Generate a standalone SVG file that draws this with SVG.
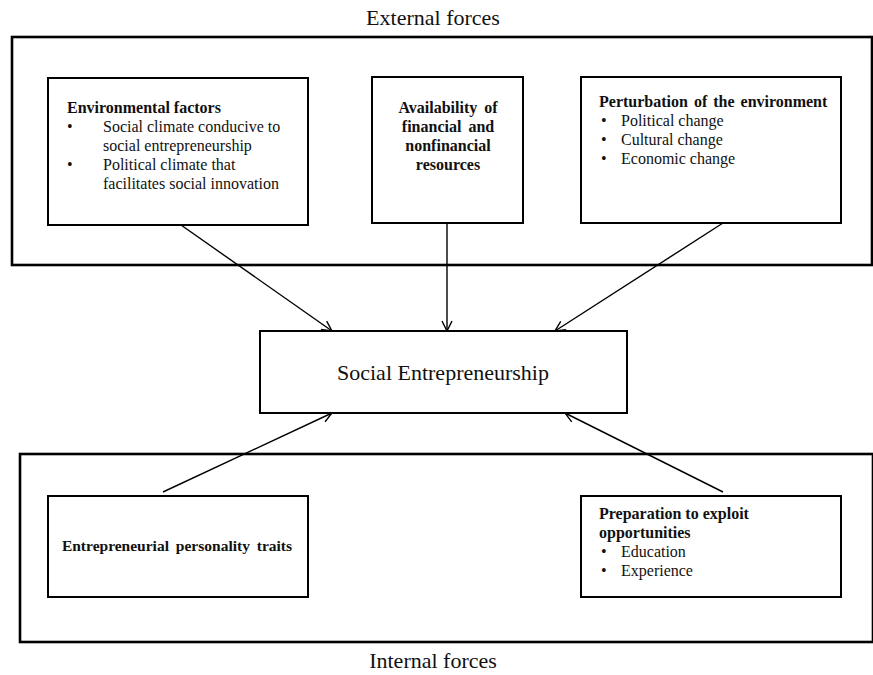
<svg xmlns="http://www.w3.org/2000/svg" width="873" height="675" viewBox="0 0 873 675">
<style>
.outer{fill:none;stroke:#000;stroke-width:2.6}
.box{fill:#fff;stroke:#000;stroke-width:2}
.t{font-family:"Liberation Serif","Times New Roman",serif;font-size:16px;fill:#111}
.b{font-weight:bold}
.big{font-family:"Liberation Serif","Times New Roman",serif;font-size:22px;fill:#111}
.conn{stroke:#000;stroke-width:1.4;fill:none}
</style>
<defs>
<marker id="arr" viewBox="0 0 12 12" refX="11" refY="6" markerWidth="12" markerHeight="12" markerUnits="userSpaceOnUse" orient="auto">
<path d="M1,1 L11,6 L1,11" fill="none" stroke="#000" stroke-width="1.4"/>
</marker>
</defs>
<rect width="873" height="675" fill="#fff"/>
<g id="external">
<text class="big" x="433" y="25" text-anchor="middle">External forces</text>
<rect class="outer" x="12" y="37" width="860" height="228"/>
</g>
<g id="internal">
<rect class="outer" x="20" y="454" width="853" height="188"/>
<text class="big" x="433" y="668" text-anchor="middle">Internal forces</text>
</g>
<g id="connectors">
<line class="conn" x1="181" y1="225" x2="332" y2="331" marker-end="url(#arr)"/>
<line class="conn" x1="447" y1="223" x2="447" y2="331" marker-end="url(#arr)"/>
<line class="conn" x1="723" y1="223" x2="555" y2="331" marker-end="url(#arr)"/>
<line class="conn" x1="163" y1="492" x2="332" y2="413" marker-end="url(#arr)"/>
<line class="conn" x1="723" y1="492" x2="565" y2="413" marker-end="url(#arr)"/>
</g>
<g id="env">
<rect class="box" x="48" y="78" width="260" height="147"/>
<text class="t b" x="67" y="113">Environmental factors</text>
<text class="t" x="67" y="132">•</text>
<text class="t" x="103" y="132">Social climate conducive to</text>
<text class="t" x="103" y="151">social entrepreneurship</text>
<text class="t" x="67" y="170">•</text>
<text class="t" x="103" y="170">Political climate that</text>
<text class="t" x="103" y="189">facilitates social innovation</text>
</g>
<g id="avail">
<rect class="box" x="372" y="77" width="151" height="146"/>
<text class="t b" x="448" y="113" text-anchor="middle" word-spacing="3">Availability of</text>
<text class="t b" x="448" y="132" text-anchor="middle" word-spacing="3">financial and</text>
<text class="t b" x="448" y="151" text-anchor="middle">nonfinancial</text>
<text class="t b" x="448" y="170" text-anchor="middle">resources</text>
</g>
<g id="perturb">
<rect class="box" x="581" y="77" width="260" height="146"/>
<text class="t b" x="599" y="107" word-spacing="2">Perturbation of the environment</text>
<text class="t" x="601" y="126">•</text>
<text class="t" x="621" y="126">Political change</text>
<text class="t" x="601" y="145">•</text>
<text class="t" x="621" y="145">Cultural change</text>
<text class="t" x="601" y="164">•</text>
<text class="t" x="621" y="164">Economic change</text>
</g>
<g id="social">
<rect class="box" x="260" y="331" width="367" height="82"/>
<text class="big" x="443" y="380" text-anchor="middle">Social Entrepreneurship</text>
</g>
<g id="traits">
<rect class="box" x="48" y="496" width="260" height="101"/>
<text class="t b" x="177" y="551" text-anchor="middle" style="font-size:15.5px" word-spacing="3">Entrepreneurial personality traits</text>
</g>
<g id="prep">
<rect class="box" x="581" y="496" width="260" height="101"/>
<text class="t b" x="599" y="519">Preparation to exploit</text>
<text class="t b" x="599" y="538">opportunities</text>
<text class="t" x="601" y="557">•</text>
<text class="t" x="621" y="557">Education</text>
<text class="t" x="601" y="576">•</text>
<text class="t" x="621" y="576">Experience</text>
</g>
</svg>
